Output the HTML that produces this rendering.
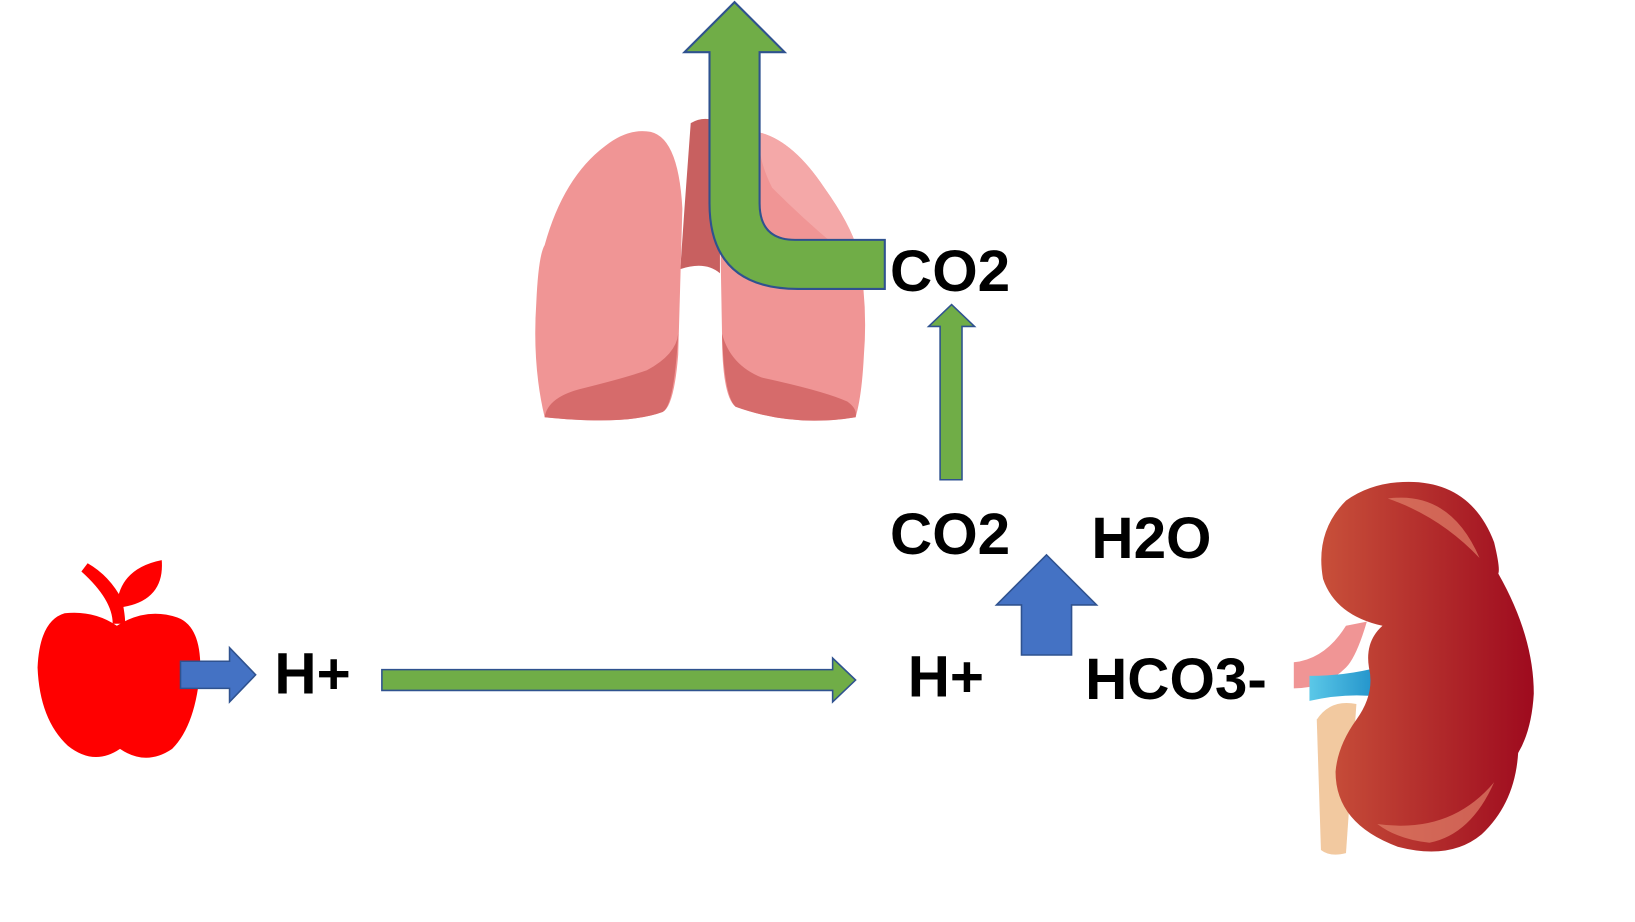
<!DOCTYPE html>
<html><head><meta charset="utf-8"><style>
html,body{margin:0;padding:0;background:#fff;}
svg{display:block;}
text{font-family:"Liberation Sans","DejaVu Sans",sans-serif;font-weight:bold;fill:#000;}
</style></head><body>
<svg width="1635" height="922" viewBox="0 0 1567 884" preserveAspectRatio="none" xmlns="http://www.w3.org/2000/svg">
<defs>
<linearGradient id="kg" x1="0" y1="0" x2="1" y2="0">
<stop offset="0" stop-color="#C8503A"/><stop offset="1" stop-color="#9E0A1E"/>
</linearGradient>
<linearGradient id="vg" x1="0" y1="0" x2="1" y2="0">
<stop offset="0" stop-color="#5BC8E8"/><stop offset="1" stop-color="#1E8FC8"/>
</linearGradient>
</defs>
<!-- lungs -->
<path d="M662 118 Q676 110 690 118 L690 262 Q676 250 652 258 L656 200 Z" fill="#C86060"/>
<path d="M620 126 Q650 128 654 200 L650 340 Q646 390 635 395 Q600 408 522 400 Q510 350 514 290 Q516 245 522 235 Q540 170 580 140 Q600 124 620 126 Z" fill="#F09595"/>
<path d="M650 320 Q646 390 635 395 Q600 408 522 400 Q525 380 560 372 Q600 362 620 355 Q648 340 650 320 Z" fill="#D66B6B"/>
<path d="M728 127 Q760 135 790 180 Q815 215 822 240 Q832 290 828 340 Q826 380 820 400 Q760 410 705 390 Q692 380 692 320 L690 210 Q690 130 728 127 Z" fill="#F09595"/>
<path d="M728 127 Q760 135 790 180 Q815 215 822 240 L800 235 Q770 210 740 180 Q725 150 728 127 Z" fill="#F4A8A8"/>
<path d="M692 320 Q700 350 730 362 Q790 375 812 385 Q822 392 820 400 Q760 410 705 390 Q694 380 692 320 Z" fill="#D66B6B"/>
<!-- big bent arrow -->
<path d="M704 2 L752 50 L728 50 L728 195 Q728 230 762 230 L848 230 L848 277 L765 277 Q680 277 680 195 L680 50 L656 50 Z" fill="#70AD47" stroke="#2F528F" stroke-width="2"/>
<text x="853" y="279" font-size="56">CO2</text>
<!-- small green up arrow -->
<path d="M912 292 L934 313 L922 313 L922 460 L901 460 L901 313 L890 313 Z" fill="#70AD47" stroke="#2F528F" stroke-width="1.5"/>
<text x="853" y="531" font-size="56">CO2</text>
<text x="1046" y="535" font-size="56">H2O</text>
<!-- blue up arrow -->
<path d="M1003 532 L1051 580 L1027 580 L1027 628 L979 628 L979 580 L955 580 Z" fill="#4472C4" stroke="#2F528F" stroke-width="1.5"/>
<text x="870" y="668" font-size="56">H+</text>
<text x="1040" y="670" font-size="56">HCO3-</text>
<!-- long green arrow -->
<path d="M366 642 L798 642 L798 631 L820 652 L798 673 L798 662 L366 662 Z" fill="#70AD47" stroke="#2F528F" stroke-width="1.5"/>
<text x="263" y="665" font-size="56">H+</text>
<!-- apple -->
<path d="M112 600 Q90 585 62 588 Q38 595 36 640 Q38 690 65 715 Q90 735 115 718 Q140 735 165 718 Q188 695 192 640 Q192 600 170 592 Q140 582 112 600 Z" fill="#FF0000"/>
<path d="M78 548 L84 540 Q105 552 117 575 Q120 590 120 598 L108 598 Q108 575 78 548 Z" fill="#FF0000"/>
<path d="M112 580 Q115 545 155 537 Q158 575 118 582 Z" fill="#FF0000"/>
<!-- blue right arrow -->
<path d="M173 634 L220 634 L220 621 L245 647 L220 673 L220 660 L173 660 Z" fill="#4472C4" stroke="#2F528F" stroke-width="1.5"/>
<!-- kidney vessels -->
<path d="M1262 690 Q1275 670 1300 675 L1290 818 Q1275 822 1266 815 Z" fill="#F2C9A0"/>
<path d="M1240 635 Q1270 632 1290 600 L1310 596 Q1300 630 1290 640 Q1270 660 1240 660 Z" fill="#F09595"/>
<path d="M1255 648 Q1290 648 1320 640 L1322 668 Q1290 664 1255 672 Z" fill="url(#vg)"/>
<!-- kidney -->
<path d="M1350 462 Q1410 462 1432 520 Q1438 545 1436 550 Q1470 610 1470 665 Q1468 700 1455 722 Q1452 770 1420 800 Q1390 825 1340 812 Q1280 790 1280 740 Q1282 715 1300 690 Q1318 665 1312 640 Q1308 615 1325 600 Q1280 590 1268 555 Q1260 510 1290 480 Q1315 462 1350 462 Z" fill="url(#kg)"/>
<path d="M1330 478 Q1390 470 1418 535 Q1380 495 1330 478 Z" fill="#E0806A" opacity="0.7"/>
<path d="M1320 790 Q1390 800 1432 750 Q1410 800 1370 808 Q1340 805 1320 790 Z" fill="#E0806A" opacity="0.7"/>
</svg>
</body></html>
